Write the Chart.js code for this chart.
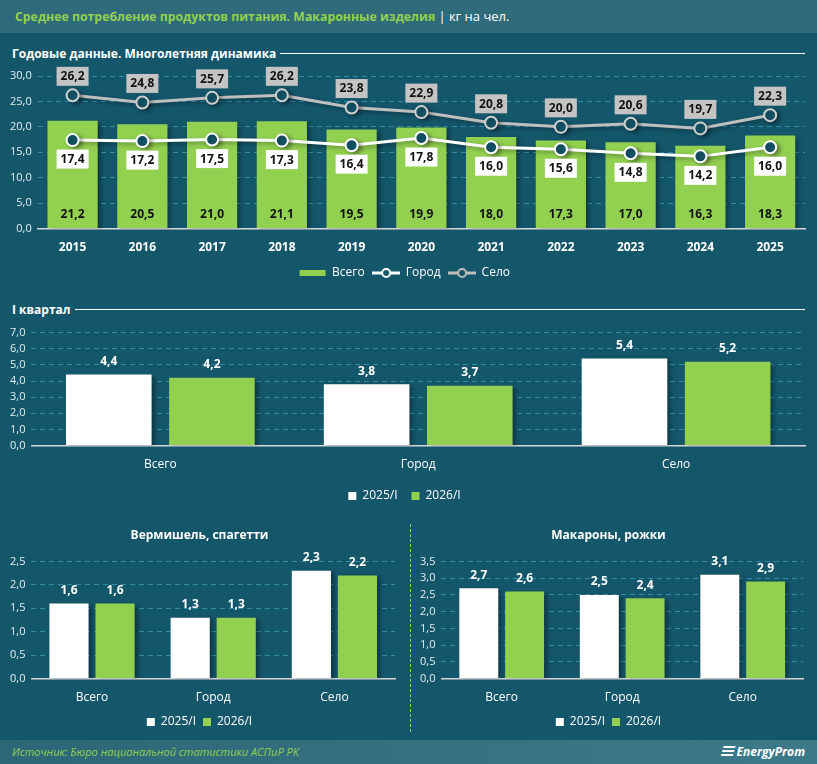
<!DOCTYPE html>
<html>
<head>
<meta charset="utf-8">
<script src="https://cdn.jsdelivr.net/npm/chart.js@4.4.1/dist/chart.umd.min.js"></script>
<style>
  html, body { margin: 0; padding: 0; }
  body { width: 817px; height: 764px; background: #14566a; position: relative; overflow: hidden; font-family: "Open Sans", sans-serif; color: #fff; }
  .header { position: absolute; left: 0; top: 0; width: 817px; height: 33px; background: #2f6b7a; }
  .header .t { position: absolute; left: 15px; top: 7px; font-size: 12.3px; font-weight: bold; color: #92d050; white-space: nowrap; }
  .header .t span { color: #fff; font-weight: normal; font-size: 13px; }
  .sec { position: absolute; left: 12px; right: 12px; height: 16px; display: flex; align-items: center; font-size: 12px; font-weight: bold; white-space: nowrap; }
  .sec::after { content: ""; flex: 1; height: 1px; background: #fff; margin-left: 4px; }
  .box { position: absolute; }
  .vline { position: absolute; left: 410px; top: 524px; height: 208px; border-left: 1px dashed #92d050; }
  .footer { position: absolute; left: 0; top: 740px; width: 817px; height: 24px; background: linear-gradient(90deg, #2c6777, #3c7a8a); }
  .footer .src { position: absolute; left: 12px; top: 4px; font-size: 11px; font-style: italic; color: #92d050; }
  .footer .logo { position: absolute; right: 12px; top: 3px; font-size: 12px; font-style: italic; font-weight: bold; color: #fff; }
  .footer .logo b { display: inline-block; width: 12px; height: 12px; margin-right: 3px; vertical-align: -2px;
    background: repeating-linear-gradient(180deg, #fff 0 2px, transparent 2px 4px); transform: skewX(-15deg); }
</style>
</head>
<body>
<div class="header"><div class="t">Среднее потребление продуктов питания. Макаронные изделия <span>| кг на чел.</span></div></div>

<div class="sec" style="top:45px">Годовые данные. Многолетняя динамика</div>
<div class="box" style="left:0;top:62px;width:817px;height:227px"><canvas id="c1"></canvas></div>

<div class="sec" style="top:301px">I квартал</div>
<div class="box" style="left:0;top:320px;width:817px;height:194px"><canvas id="c2"></canvas></div>

<div class="box" style="left:0;top:520px;width:405px;height:220px"><canvas id="c3"></canvas></div>
<div class="vline"></div>
<div class="box" style="left:410px;top:520px;width:407px;height:220px"><canvas id="c4"></canvas></div>

<div class="footer">
  <div class="src">Источник: Бюро национальной статистики АСПиР РК</div>
  <div class="logo"><b></b>EnergyProm</div>
</div>

<script>
// годовые данные
const years = ['2015', '2016', '2017', '2018', '2019', '2020', '2021', '2022', '2023', '2024', '2025'];
const total = [21.2, 20.5, 21.0, 21.1, 19.5, 19.9, 18.0, 17.3, 17.0, 16.3, 18.3];
const city = [17.4, 17.2, 17.5, 17.3, 16.4, 17.8, 16.0, 15.6, 14.8, 14.2, 16.0];
const rural = [26.2, 24.8, 25.7, 26.2, 23.8, 22.9, 20.8, 20.0, 20.6, 19.7, 22.3];

// I квартал
const groups = ['Всего', 'Город', 'Село'];
const periods = ['2025/I', '2026/I'];
const q2025 = [4.4, 3.8, 5.4];
const q2026 = [4.2, 3.7, 5.2];
const verm2025 = [1.6, 1.3, 2.3];
const verm2026 = [1.6, 1.3, 2.2];
const mac2025 = [2.7, 2.5, 3.1];
const mac2026 = [2.6, 2.4, 2.9];

const GREEN = '#92d050';
const BG = '#14566a';
const GRID = '#2f8ea5';
const FONT = '"Open Sans", sans-serif';
const fmt = v => v.toFixed(1).replace('.', ',');

// тень под столбцами и линиями
const shadow = {
  id: 'shadow',
  beforeDatasetsDraw(chart) {
    const ctx = chart.ctx;
    ctx.save();
    ctx.shadowColor = 'rgba(0,0,0,0.35)';
    ctx.shadowBlur = 4;
    ctx.shadowOffsetX = 3;
    ctx.shadowOffsetY = 2;
  },
  afterDatasetsDraw(chart) { chart.ctx.restore(); }
};

function legendIcon(kind) {
  const c = document.createElement('canvas');
  c.width = 28; c.height = 12;
  const g = c.getContext('2d');
  if (kind === 'bar') {
    g.fillStyle = GREEN; g.fillRect(1, 3, 26, 6);
  } else {
    g.strokeStyle = kind; g.lineWidth = 3;
    g.beginPath(); g.moveTo(0, 6); g.lineTo(28, 6); g.stroke();
    g.fillStyle = BG; g.lineWidth = 2;
    g.beginPath(); g.arc(14, 6, 4, 0, Math.PI * 2); g.fill(); g.stroke();
  }
  return c;
}

function valueAxis(max, step) {
  return {
    min: 0, max: max,
    ticks: { stepSize: step, autoSkip: false, color: '#e6eef0', font: { family: FONT, size: 11 }, padding: 6, callback: v => fmt(v) },
    grid: { color: ctx => ctx.tick.value === 0 ? 'rgba(0,0,0,0)' : GRID, drawTicks: false, lineWidth: 1 },
    border: { display: false, dash: [5, 4] }
  };
}

function catAxis(size, bold) {
  return {
    ticks: { color: '#fff', font: { family: FONT, size: size, weight: bold ? 'bold' : 'normal' }, padding: 4 },
    grid: { display: false },
    border: { color: '#d8d8d8', width: 1.5 }
  };
}

// Chart 1: годовая динамика
const annualLabels = {
  id: 'annualLabels',
  afterDraw(chart) {
    const ctx = chart.ctx;
    const yScale = chart.scales.y;
    ctx.save();
    ctx.font = 'bold 12px ' + FONT;
    ctx.textAlign = 'center';
    ctx.textBaseline = 'middle';
    chart.getDatasetMeta(0).data.forEach((bar, i) => {
      ctx.fillStyle = '#111';
      ctx.fillText(fmt(total[i]), bar.x, yScale.getPixelForValue(0) - 14);
    });
    const boxes = [[1, city, '#ffffff', 19], [2, rural, '#c4c4c4', -19]];
    boxes.forEach(([idx, arr, col, off]) => {
      chart.getDatasetMeta(idx).data.forEach((pt, i) => {
        const t = fmt(arr[i]);
        const w = ctx.measureText(t).width + 8;
        ctx.fillStyle = col;
        ctx.fillRect(pt.x - w / 2, pt.y + off - 9.5, w, 19);
        ctx.fillStyle = '#111';
        ctx.fillText(t, pt.x, pt.y + off + 0.5);
      });
    });
    ctx.restore();
  }
};

new Chart(document.getElementById('c1'), {
  data: {
    labels: years,
    datasets: [
      { type: 'bar', label: 'Всего', data: total, backgroundColor: GREEN, barPercentage: 0.72, categoryPercentage: 1, order: 3 },
      { type: 'line', label: 'Город', data: city, borderColor: '#ffffff', borderWidth: 3, pointRadius: 6, pointBorderWidth: 2,
        pointBackgroundColor: BG, pointBorderColor: '#ffffff', pointStyle: 'circle', order: 1 },
      { type: 'line', label: 'Село', data: rural, borderColor: '#bfbfbf', borderWidth: 3, pointRadius: 6, pointBorderWidth: 2,
        pointBackgroundColor: BG, pointBorderColor: '#d0d0d0', order: 2 }
    ]
  },
  options: {
    responsive: true, maintainAspectRatio: false, animation: false,
    layout: { padding: { left: 4, right: 12, top: 14, bottom: 0 } },
    scales: { x: catAxis(12, true), y: valueAxis(30, 5) },
    plugins: {
      tooltip: { enabled: false },
      legend: {
        position: 'bottom',
        labels: {
          color: '#fff', font: { family: FONT, size: 12 }, usePointStyle: true, pointStyleWidth: 27, boxHeight: 12, padding: 8,
          generateLabels: () => [
            { text: 'Всего', pointStyle: legendIcon('bar'), fontColor: '#fff', datasetIndex: 0 },
            { text: 'Город', pointStyle: legendIcon('#ffffff'), fontColor: '#fff', datasetIndex: 1 },
            { text: 'Село', pointStyle: legendIcon('#bfbfbf'), fontColor: '#fff', datasetIndex: 2 }
          ]
        }
      }
    }
  },
  plugins: [shadow, annualLabels]
});

// столбцы с подписями сверху
const topLabels = {
  id: 'topLabels',
  afterDraw(chart) {
    const ctx = chart.ctx;
    ctx.save();
    ctx.font = 'bold 12px ' + FONT;
    ctx.fillStyle = '#fff';
    ctx.textAlign = 'center';
    ctx.textBaseline = 'middle';
    chart.data.datasets.forEach((ds, di) => {
      chart.getDatasetMeta(di).data.forEach((bar, i) => {
        ctx.fillText(fmt(ds.data[i]), bar.x, bar.y - 13);
      });
    });
    ctx.restore();
  }
};

function groupChart(id, a, b, max, step, cat, barP, title, pad, legPad) {
  return new Chart(document.getElementById(id), {
    type: 'bar',
    data: {
      labels: groups,
      datasets: [
        { label: periods[0], data: a, backgroundColor: '#ffffff', categoryPercentage: cat, barPercentage: barP },
        { label: periods[1], data: b, backgroundColor: GREEN, categoryPercentage: cat, barPercentage: barP }
      ]
    },
    options: {
      responsive: true, maintainAspectRatio: false, animation: false,
      layout: { padding: pad },
      scales: { x: catAxis(12, false), y: valueAxis(max, step) },
      plugins: {
        tooltip: { enabled: false },
        title: title ? { display: true, text: title, color: '#fff', font: { family: FONT, size: 12, weight: 'bold' }, padding: { top: 4, bottom: 19 } } : { display: false },
        legend: {
          position: 'bottom',
          labels: { color: '#fff', font: { family: FONT, size: 12 }, boxWidth: 8, boxHeight: 8, padding: legPad }
        }
      }
    },
    plugins: [shadow, topLabels]
  });
}

groupChart('c2', q2025, q2026, 7, 1, 0.8, 0.83, null, { left: 4, right: 12, top: 10, bottom: 2 }, 14);
groupChart('c3', verm2025, verm2026, 2.5, 0.5, 0.76, 0.85, 'Вермишель, спагетти', { left: 4, right: 10, top: 4, bottom: 2 }, 7);
groupChart('c4', mac2025, mac2026, 3.5, 0.5, 0.76, 0.85, 'Макароны, рожки', { left: 4, right: 14, top: 4, bottom: 2 }, 7);
</script>
</body>
</html>
